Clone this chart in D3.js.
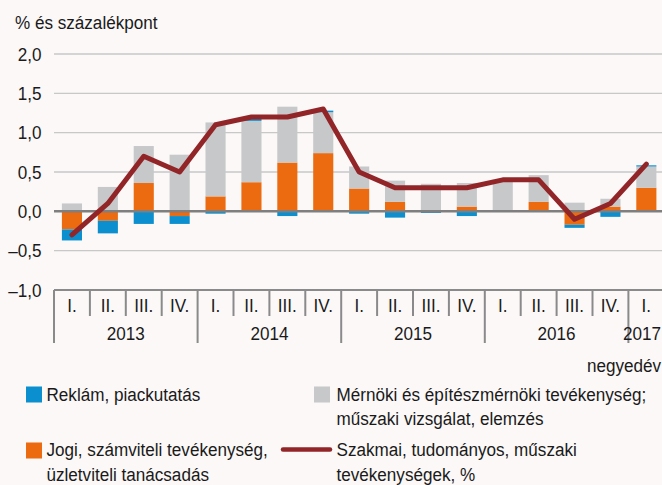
<!DOCTYPE html>
<html><head><meta charset="utf-8">
<script src="https://cdn.jsdelivr.net/npm/d3@7"></script>
<style>
html,body{margin:0;padding:0;background:#fbf8f7;}
svg{display:block;font-family:"Liberation Sans",Arial,sans-serif;}
text{fill:#1a1a1a;font-size:19px;}
</style></head>
<body>
<svg id="c" width="662" height="485"></svg>
<script>
const quarters = ["I.","II.","III.","IV.","I.","II.","III.","IV.","I.","II.","III.","IV.","I.","II.","III.","IV.","I."];
const yearLabels = ["2013","2014","2015","2016","2017"];
const reklam  = [-0.14,-0.16,-0.16,-0.10,-0.03, 0.03,-0.06, 0.02,-0.03,-0.08,-0.02,-0.06, 0.00, 0.00,-0.04,-0.07, 0.015];
const jogi    = [-0.23,-0.12, 0.36,-0.06, 0.19, 0.37, 0.62, 0.74, 0.29, 0.12, 0.00, 0.06, 0.00, 0.12,-0.17, 0.06, 0.30];
const mernoki = [ 0.10, 0.31, 0.47, 0.72, 0.94, 0.78, 0.71, 0.52, 0.28, 0.27, 0.35, 0.30, 0.40, 0.34, 0.11, 0.10, 0.27];
const szakmai = [-0.3, 0.1, 0.7, 0.5, 1.1, 1.2, 1.2, 1.3, 0.5, 0.3, 0.3, 0.3, 0.4, 0.4,-0.1, 0.1, 0.6];
const yTicks  = [-1,-0.5,0,0.5,1,1.5,2];
const seriesNames = ["Reklám, piackutatás","Mérnöki és építészmérnöki tevékenység;","műszaki vizsgálat, elemzés","Jogi, számviteli tevékenység,","üzletviteli tanácsadás","Szakmai, tudományos, műszaki","tevékenységek, %"];

const colors = {reklam:"#0b8fcf", jogi:"#ec6a10", mernoki:"#c7c8ca", line:"#922528"};

const svg = d3.select("#c");
const idx = d3.range(quarters.length);
const x = d3.scaleBand().domain(idx).range([54, 54 + 17*35.9]).paddingInner(0.44).paddingOuter(0.22);
const y = d3.scaleLinear().domain([-1, 2]).range([290, 54]);
const step = x.step();

function txt(g, px, py, s, anchor){
  return g.append("text").attr("transform", `translate(${px},${py}) scale(0.9,1)`).attr("text-anchor", anchor||"start").text(s);
}
const fmt = v => d3.format(".1f")(v).replace(".", ",").replace("\u2212","\u2013").replace("-","\u2013");

// title
txt(svg, 15, 29, "% és százalékpont");

// gridlines
svg.append("g").selectAll("line").data(yTicks.filter(v => v !== 0 && v !== -1)).join("line")
  .attr("x1", 54).attr("x2", 662).attr("y1", d => y(d)).attr("y2", d => y(d))
  .attr("stroke", "#c8c8c8").attr("stroke-width", 1.3);

// y axis labels
const yAxis = d3.axisLeft(y).tickValues(yTicks).tickSize(0).tickPadding(14).tickFormat(fmt);
const ya = svg.append("g").attr("transform", "translate(54,0)").call(yAxis);
ya.select(".domain").remove();
ya.selectAll("text").attr("transform", "scale(0.9,1)").style("font-size", "19px").style("font-family", "'Liberation Sans',Arial,sans-serif").attr("fill", "#1a1a1a");

// stacked bars
const table = idx.map(i => ({i, jogi: jogi[i], mernoki: mernoki[i], reklam: reklam[i]}));
const stack = d3.stack().keys(["jogi","mernoki","reklam"]).offset(d3.stackOffsetDiverging);
const layers = stack(table);
svg.append("g").selectAll("g").data(layers).join("g").attr("fill", d => colors[d.key])
  .selectAll("rect").data(d => d).join("rect")
  .attr("x", d => x(d.data.i)).attr("width", x.bandwidth())
  .attr("y", d => y(Math.max(d[0], d[1])))
  .attr("height", d => Math.abs(y(d[0]) - y(d[1])));

// zero line
svg.append("line").attr("x1", 54).attr("x2", 662).attr("y1", y(0)).attr("y2", y(0))
  .attr("stroke", "#7f7f7f").attr("stroke-width", 2.5);

// bottom axis line
svg.append("line").attr("x1", 54).attr("x2", 662).attr("y1", y(-1)).attr("y2", y(-1))
  .attr("stroke", "#8a8a8a").attr("stroke-width", 2);

// separators
const seps = d3.range(quarters.length + 1);
svg.append("g").selectAll("line").data(seps).join("line")
  .attr("x1", i => 54 + i*step).attr("x2", i => 54 + i*step)
  .attr("y1", y(-1)).attr("y2", i => (i % 4 === 0) ? 343 : 316)
  .attr("stroke", "#8a8a8a").attr("stroke-width", 2);

// quarter labels
const xq = svg.append("g");
idx.forEach(i => txt(xq, x(i) + x.bandwidth()/2, 312, quarters[i], "middle"));
// year labels
yearLabels.forEach((yl, k) => {
  const first = k*4, last = Math.min(k*4 + 3, quarters.length - 1);
  const cx = Math.min((54 + first*step + 54 + (last+1)*step) / 2, 642);
  txt(svg, cx, 340, yl, "middle");
});
txt(svg, 661, 372, "negyedév", "end");

// line
const line = d3.line().x((d, i) => x(i) + x.bandwidth()/2).y(d => y(d));
svg.append("path").datum(szakmai).attr("d", line).attr("fill", "none")
  .attr("stroke", colors.line).attr("stroke-width", 5).attr("stroke-linejoin", "round").attr("stroke-linecap", "round");

// legend
const lg = svg.append("g");
lg.append("rect").attr("x", 26).attr("y", 386.5).attr("width", 16).attr("height", 16).attr("fill", colors.reklam);
txt(lg, 46.5, 400.5, seriesNames[0]);
lg.append("rect").attr("x", 314).attr("y", 386.5).attr("width", 16).attr("height", 16).attr("fill", colors.mernoki);
txt(lg, 336.5, 400.5, seriesNames[1]);
txt(lg, 336.5, 425, seriesNames[2]);
lg.append("rect").attr("x", 26).attr("y", 442.5).attr("width", 16).attr("height", 16).attr("fill", colors.jogi);
txt(lg, 46.5, 456, seriesNames[3]);
txt(lg, 46.5, 480.5, seriesNames[4]);
lg.append("line").attr("x1", 283).attr("x2", 330).attr("y1", 449.5).attr("y2", 449.5)
  .attr("stroke", colors.line).attr("stroke-width", 4.5).attr("stroke-linecap", "round");
txt(lg, 336.5, 456, seriesNames[5]);
txt(lg, 336.5, 480.5, seriesNames[6]);
</script>
</body></html>
